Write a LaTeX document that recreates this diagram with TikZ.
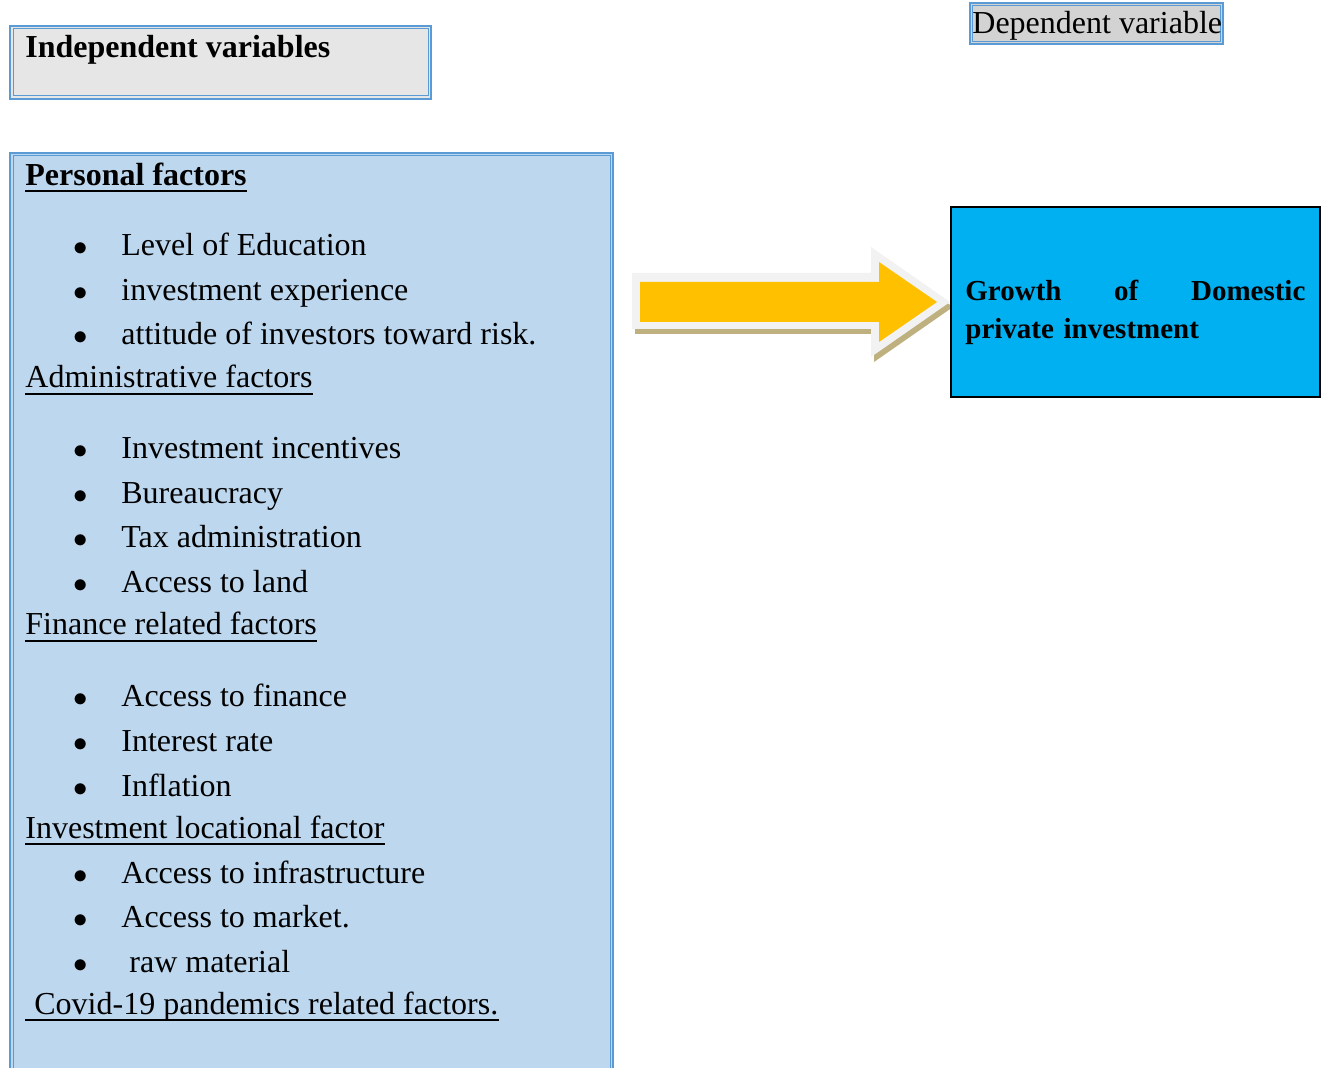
\documentclass[tikz,border=0pt]{standalone}
\usepackage{fontspec}
\setmainfont{Liberation Serif}
\usepackage{tikz}

\definecolor{boxblue}{RGB}{91,155,213}
\definecolor{panelblue}{RGB}{189,215,238}
\definecolor{lightgrey}{RGB}{230,230,230}
\definecolor{midgrey}{RGB}{211,211,211}
\definecolor{skyblue}{RGB}{0,176,240}
\definecolor{arrowgold}{RGB}{255,192,0}
\definecolor{arrowrim}{RGB}{242,242,242}
\definecolor{arrowshade}{RGB}{191,177,127}

\tikzset{
  outerline/.style = {draw=boxblue, line width=1pt},
  innerline/.style = {draw=boxblue, line width=0.5pt},
  txt/.style = {inner sep=0pt, anchor=base west, font=\fontsize{16}{19}\selectfont},
  bold/.style = {txt, font=\fontsize{16}{19}\selectfont\bfseries},
  ul/.style = {line width=0.6pt},
}

\begin{document}
\begin{tikzpicture}[x=0.5pt, y=-0.5pt]
	%%% Frame
	\useasboundingbox (0,0) rectangle (1322,1068);
	%%% Title boxes
	\fill[lightgrey] (10,26) rectangle (431,99);
	\draw[outerline] (10,26) rectangle (431,99);
	\draw[innerline] (13,29) rectangle (428,96);
	\node[bold] (indep) at (25,58) {Independent variables};

	\fill[midgrey] (970,3) rectangle (1223,44);
	\draw[outerline] (970,3) rectangle (1223,44);
	\draw[innerline] (972.5,5.5) rectangle (1220.5,41.5);
	\node[txt] (dep) at (972,34) {Dependent variable};

	%%% Panel of factors
	\fill[panelblue] (10,153) rectangle (613,1090);
	\draw[outerline] (10,1090) -- (10,153) -- (613,153) -- (613,1090);
	\draw[innerline] (13,1090) -- (13,156) -- (610,156) -- (610,1090);

	\node[bold] (personal) at (25,186) {Personal factors};
	\draw[ul, line width=1pt] ([yshift=-2.5pt]personal.base west) -- ([yshift=-2.5pt]personal.base east);
	\foreach \n/\x/\y/\t in {head2/25/388/Administrative factors, head3/25/635/Finance related factors,
	                          head4/25/838/Investment locational factor, head5/34/1014/Covid-19 pandemics related factors.}
	{
		\node[txt] (\n) at (\x,\y) {\t};
		\draw[ul] ([yshift=-3pt]\n.base west -| 25,0) -- ([yshift=-3pt]\n.base east);
	}

	%%% Bullet items
	\foreach \n/\x/\y/\t in {a1/121/256/Level of Education, a2/121/301/investment experience,
	                          a3/121/345/attitude of investors toward risk.,
	                          b1/121/459/Investment incentives, b2/121/504/Bureaucracy,
	                          b3/121/548/Tax administration, b4/121/593/Access to land,
	                          c1/121/707/Access to finance, c2/121/751/Interest rate, c3/121/796/Inflation,
	                          d1/121/883/Access to infrastructure, d2/121/927/Access to market.,
	                          d3/129/972/raw material}
	{
		\node[txt] (\n) at (\x,\y) {\t};
		\node[txt] (dot\n) at (73,\y) {\fontsize{14}{14}\selectfont$\bullet$};
	}

	%%% Block arrow
	\fill[arrowshade] (635,278) -- (874,278) -- (874,252) -- (953,307) -- (874,362) -- (874,334) -- (635,334) -- cycle;
	\fill[arrowrim] (632,273) -- (871,273) -- (871,247) -- (950,302) -- (871,357) -- (871,329) -- (632,329) -- cycle;
	\fill[arrowgold] (640,282) -- (879,282) -- (879,262) -- (937,302) -- (879,342) -- (879,322) -- (640,322) -- cycle;

	%%% Dependent variable box
	\draw[fill=skyblue, line width=1pt] (951,207) rectangle (1320,397);
	\node[bold, font=\fontsize{14.5}{19}\selectfont\bfseries, anchor=north west, text width=170pt, align=left] (growth) at (965,280)
		{Growth\hfill of\hfill Domestic\\private investment\hfill\null};
\end{tikzpicture}
\end{document}
